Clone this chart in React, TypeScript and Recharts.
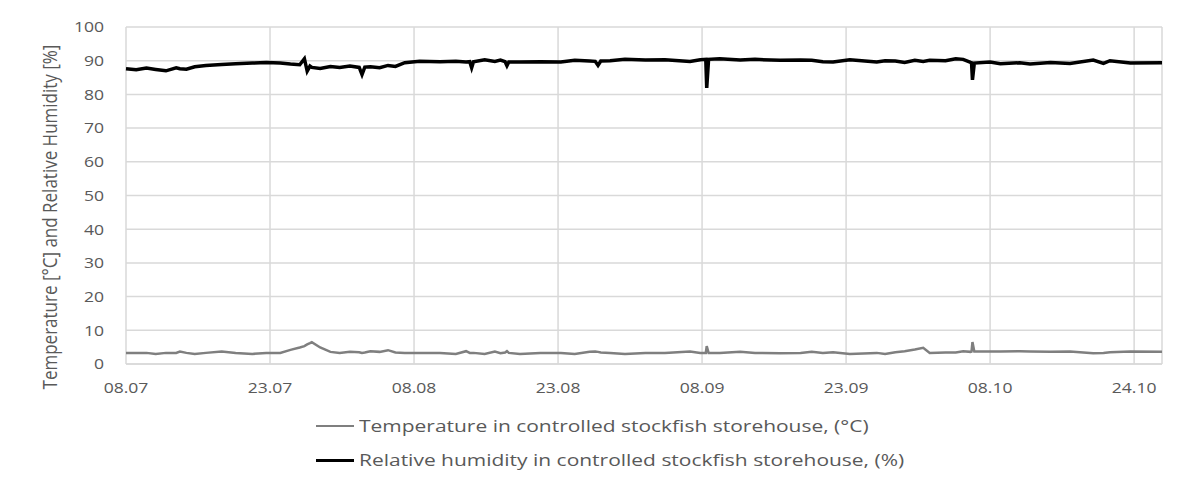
import React from 'react';
import { LineChart, Line, XAxis, YAxis, CartesianGrid, Label } from 'recharts';

// days since 08.07 (Excel axis puts the date ticks at equal steps)
const tickDays = [0, 15.5, 31, 46.5, 62, 77.5, 93, 108.5];
const tickLabels = ['08.07', '23.07', '08.08', '23.08', '08.09', '23.09', '08.10', '24.10'];
const yTicks = [0, 10, 20, 30, 40, 50, 60, 70, 80, 90, 100];

const sampleDays = [
  0, 1.1, 2.2, 3.2, 4.3, 5.4, 5.8, 6.5, 7.4, 8.6, 10.3, 11.8, 13.6, 15.1, 16.6, 17.7, 18.7, 19.2, 19.5, 19.8,
  20.0, 20.9, 22.0, 23.0, 24.1, 25.1, 25.4, 25.7, 26.3, 27.3, 28.2, 29.0, 30.0, 31.6, 33.8, 35.5, 36.6, 37.0,
  37.2, 37.4, 38.6, 39.7, 40.3, 40.8, 41.0, 41.2, 42.4, 44.6, 46.8, 48.3, 49.9, 50.5, 50.8, 51.1, 52.1, 53.7,
  55.9, 58.0, 60.7, 61.8, 62.4, 62.5, 62.7, 63.9, 66.1, 67.7, 70.4, 72.6, 73.8, 75.0, 76.1, 77.9, 80.8, 81.7,
  82.8, 83.8, 84.9, 85.8, 86.5, 88.2, 89.3, 90.1, 90.9, 91.0, 91.1, 91.3, 93.0, 94.1, 96.2, 97.3, 99.5, 101.6,
  104.1, 105.2, 105.9, 108.1, 111.5,
];

const humidity = [
  87.6, 87.3, 87.8, 87.4, 87.0, 87.9, 87.6, 87.5, 88.2, 88.6, 88.9, 89.1, 89.3, 89.5, 89.3, 89.0, 88.8, 90.6, 86.9, 88.4,
  88.0, 87.7, 88.3, 88.0, 88.4, 88.0, 85.9, 88.1, 88.2, 87.9, 88.6, 88.3, 89.4, 89.8, 89.7, 89.8, 89.6, 89.7,
  87.9, 89.7, 90.3, 89.8, 90.2, 89.7, 88.5, 89.6, 89.6, 89.7, 89.6, 90.1, 89.9, 89.8, 88.6, 89.9, 90.0, 90.4,
  90.2, 90.3, 89.8, 90.3, 90.4, 81.9, 90.4, 90.6, 90.2, 90.4, 90.1, 90.2, 90.1, 89.7, 89.6, 90.3, 89.6, 90.0,
  89.9, 89.5, 90.1, 89.8, 90.1, 90.0, 90.6, 90.4, 89.5, 89.4, 84.3, 89.3, 89.6, 89.1, 89.4, 89.0, 89.5, 89.2,
  90.2, 89.2, 90.0, 89.3, 89.4,
];

const temperature = [
  3.3, 3.3, 3.3, 3.0, 3.3, 3.3, 3.7, 3.3, 3.0, 3.3, 3.7, 3.3, 3.0, 3.3, 3.3, 4.2, 4.9, 5.3, 5.8, 6.2,
  6.5, 4.9, 3.6, 3.3, 3.6, 3.5, 3.3, 3.4, 3.8, 3.6, 4.1, 3.4, 3.3, 3.3, 3.3, 3.0, 3.8, 3.3,
  3.3, 3.3, 3.0, 3.7, 3.2, 3.4, 3.8, 3.3, 3.0, 3.3, 3.3, 3.0, 3.6, 3.7, 3.6, 3.4, 3.3, 3.0,
  3.3, 3.3, 3.7, 3.3, 3.3, 5.3, 3.3, 3.3, 3.6, 3.3, 3.2, 3.3, 3.6, 3.3, 3.5, 3.0, 3.3, 3.0,
  3.5, 3.8, 4.3, 4.8, 3.3, 3.4, 3.4, 3.8, 3.6, 3.7, 6.5, 3.7, 3.7, 3.7, 3.8, 3.7, 3.6, 3.7,
  3.2, 3.3, 3.5, 3.7, 3.6,
];

const data = sampleDays.map((day, i) => ({ day, rh: humidity[i], temp: temperature[i] }));

const FONT = '"Open Sans", sans-serif';
const TEXT = '#595959';
const GRID = '#d9d9d9';
const TEMP_COLOR = '#7f7f7f';
const RH_COLOR = '#000000';
const STRETCH = 1.17;

const legendItems = [
  { label: 'Temperature in controlled stockfish storehouse, (°C)', color: TEMP_COLOR, width: 2, top: 414 },
  { label: 'Relative humidity in controlled stockfish storehouse, (%)', color: RH_COLOR, width: 3, top: 448 },
];

const XTick = (props: any) => {
  const { x, y, payload } = props;
  const label = tickLabels[tickDays.indexOf(payload.value)] ?? '';
  return (
    <text
      transform={`translate(${x},${y}) scale(${STRETCH},1)`}
      textAnchor="middle"
      dy="0.71em"
      fill={TEXT}
      fontSize={15}
      fontFamily={FONT}
    >
      {label}
    </text>
  );
};

const YTick = (props: any) => {
  const { x, y, payload } = props;
  return (
    <text
      transform={`translate(${x},${y}) scale(${STRETCH},1)`}
      textAnchor="end"
      dy="0.355em"
      fill={TEXT}
      fontSize={15}
      fontFamily={FONT}
    >
      {payload.value}
    </text>
  );
};

export default function App() {
  return (
    <div style={{ position: 'relative', margin: -8, width: 1198, height: 483, background: '#fff', fontFamily: FONT }}>
      <div
        style={{
          position: 'absolute',
          left: 7,
          top: 6,
          width: 1191,
          height: 477,
          borderTop: `1px solid ${GRID}`,
          borderLeft: `1px solid ${GRID}`,
          boxSizing: 'border-box',
        }}
      />
      <div style={{ position: 'absolute', left: 0, top: 0 }}>
        <LineChart width={1198} height={483} data={data} margin={{ top: 27, right: 36, bottom: 89, left: 70 }}>
          <CartesianGrid stroke={GRID} strokeWidth={1.5} />
          <XAxis
            dataKey="day"
            type="number"
            domain={[0, 111.5]}
            ticks={tickDays}
            height={30}
            tickSize={0}
            tickMargin={18}
            tickLine={false}
            axisLine={{ stroke: GRID, strokeWidth: 1.5 }}
            tick={<XTick />}
            interval={0}
          />
          <YAxis
            domain={[0, 100]}
            ticks={yTicks}
            width={56}
            tickSize={0}
            tickMargin={22}
            tickLine={false}
            axisLine={false}
            tick={<YTick />}
            interval={0}
          >
            <Label
              content={() => (
                <text
                  transform="translate(49,217) scale(1.2,1) rotate(-90)"
                  textAnchor="middle"
                  dominantBaseline="central"
                  fill={TEXT}
                  fontSize={17}
                  fontFamily={FONT}
                >
                  Temperature [°C] and Relative Humidity [%]
                </text>
              )}
            />
          </YAxis>
          <Line
            dataKey="temp"
            type="linear"
            stroke={TEMP_COLOR}
            strokeWidth={2.5}
            dot={false}
            isAnimationActive={false}
          />
          <Line
            dataKey="rh"
            type="linear"
            stroke={RH_COLOR}
            strokeWidth={3.5}
            dot={false}
            isAnimationActive={false}
          />
        </LineChart>
      </div>
      {legendItems.map((item) => (
        <div
          key={item.label}
          style={{
            position: 'absolute',
            left: 316,
            top: item.top,
            height: 24,
            display: 'flex',
            alignItems: 'center',
            color: TEXT,
            fontSize: 16,
            whiteSpace: 'nowrap',
          }}
        >
          <span style={{ display: 'inline-block', width: 38, height: item.width, background: item.color, marginRight: 5 }} />
          <span style={{ display: 'inline-block', transform: 'scaleX(1.31)', transformOrigin: 'left center' }}>
            {item.label}
          </span>
        </div>
      ))}
    </div>
  );
}
